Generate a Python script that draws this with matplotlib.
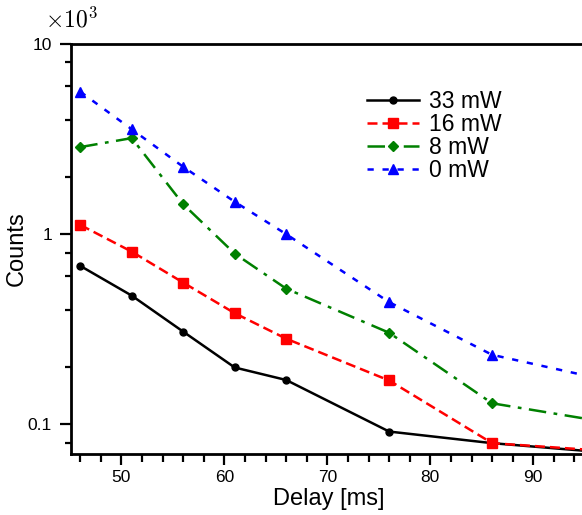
import matplotlib
matplotlib.use("Agg")
import matplotlib.pyplot as plt
from matplotlib.legend_handler import HandlerLine2D
from matplotlib.ticker import LogLocator, FixedLocator, NullFormatter, FuncFormatter

plt.rcParams['font.family'] = ['Liberation Sans', 'DejaVu Sans']

delay = [46, 51, 56, 61, 66, 76, 86, 96]
p33 = [0.681, 0.475, 0.307, 0.199, 0.171, 0.0916, 0.0796, 0.0718]
p16 = [1.118, 0.809, 0.556, 0.384, 0.282, 0.170, 0.0796, 0.0731]
p8 = [2.87, 3.20, 1.436, 0.790, 0.517, 0.303, 0.129, 0.105]
p0 = [5.61, 3.56, 2.26, 1.48, 1.00, 0.439, 0.232, 0.176]
labels = ["33 mW", "16 mW", "8 mW", "0 mW"]
xticks = [50, 60, 70, 80, 90]
yticks = [0.1, 1, 10]
ytick_labels = ["0.1", "1", "10"]

W, H = 582, 515
fig = plt.figure(figsize=(W / 100, H / 100), dpi=100)
ax = fig.add_axes([70.7 / W, 1 - 454 / H, (586.3 - 70.7) / W, (454 - 44) / H])
ax.set_yscale('log')

lw = 1.8
ax.plot(delay, p33, color='black', lw=lw, ls='-', marker='o', ms=5, label=labels[0])
ax.plot(delay, p16, color='red', lw=lw, ls=(0, (4, 2)), marker='s', ms=7, label=labels[1])
ax.plot(delay, p8, color='green', lw=lw, ls=(0, (7, 3, 1.5, 3)), marker='D', ms=5.5, label=labels[2])
ax.plot(delay, p0, color='blue', lw=lw, ls=(0, (2.5, 3.5)), marker='^', ms=7.5, label=labels[3])

ax.set_xlim(45.07, 95.15)
ax.set_ylim(0.0698, 10)

ax.xaxis.set_major_locator(FixedLocator(xticks))
ax.xaxis.set_minor_locator(FixedLocator([v for v in range(46, 96, 2) if v % 10 != 0]))
ax.yaxis.set_major_locator(FixedLocator(yticks))
ax.yaxis.set_minor_locator(LogLocator(base=10, subs=(2, 4, 6, 8)))
ax.yaxis.set_major_formatter(FuncFormatter(
    lambda v, p: dict(zip([round(t, 3) for t in yticks], ytick_labels)).get(round(v, 3), "")))
ax.yaxis.set_minor_formatter(NullFormatter())

for s in ['left', 'bottom', 'top', 'right']:
    ax.spines[s].set_linewidth(2.0)
ax.tick_params(which='major', direction='out', length=8, width=1.6, labelsize=12.5,
               top=False, right=False)
ax.tick_params(axis='y', which='major', pad=5.5)
ax.tick_params(axis='x', which='major', pad=3.5)
ax.tick_params(axis='y', which='minor', direction='out', length=4.1, width=1.6, right=False)
ax.tick_params(axis='x', which='minor', direction='out', length=5.5, width=1.6, top=False)

ax.set_xlabel("Delay [ms]", fontsize=17, labelpad=2)
ax.set_ylabel("Counts", fontsize=17, labelpad=0)


class MarkerRight(HandlerLine2D):
    def get_xdata(self, legend, xdescent, ydescent, width, height, fontsize):
        xdata, _ = super().get_xdata(legend, xdescent, ydescent, width, height, fontsize)
        return xdata, [-xdescent + 0.72 * width]


handles, labs = ax.get_legend_handles_labels()
leg = fig.legend(handles, labs, loc='upper left', bbox_to_anchor=(366.7 / W, 1 - 90 / H),
                 frameon=False, fontsize=16.5, borderpad=0, borderaxespad=0,
                 labelspacing=0.0, handlelength=2.3, handletextpad=0.43, numpoints=1,
                 handler_map={h: MarkerRight() for h in handles})

fig.text(45 / W, 1 - 27 / H, r'$\times 10^3$', fontsize=17, math_fontfamily='cm',
         ha='left', va='baseline')

fig.savefig("out.png", dpi=100)
